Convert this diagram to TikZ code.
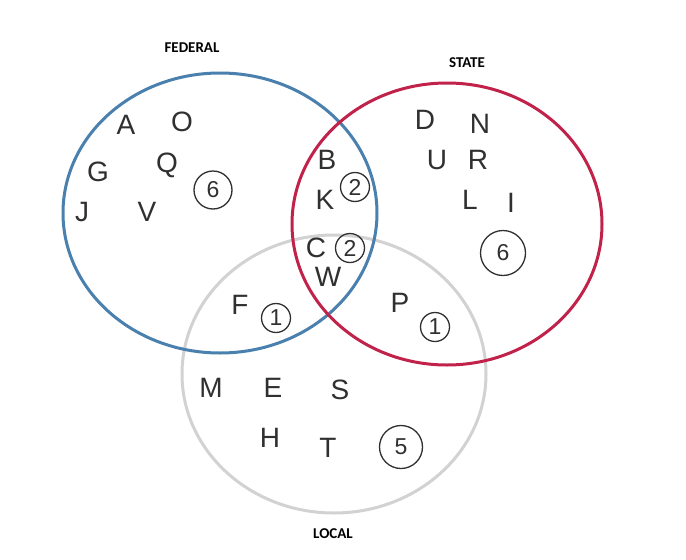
\documentclass[tikz,border=0pt]{standalone}
\usepackage{fontspec}
\setmainfont{Liberation Sans}
\newfontfamily\labfont{Carlito}
\definecolor{fedblue}{HTML}{4A80AE}
\definecolor{statered}{HTML}{C1224A}
\definecolor{localgray}{HTML}{D2D2D2}
\definecolor{ink}{HTML}{303030}
\begin{document}
\begin{tikzpicture}[x=1pt,y=-1pt,
  setlabel/.style={font=\labfont\bfseries\fontsize{15}{17}\selectfont, text=black},
  hand/.style={font=\fontsize{28}{30}\selectfont, text=ink, inner sep=0pt},
  cnum/.style={draw=ink, line width=1.3pt, circle, inner sep=0pt, minimum size=#1, text=ink, font=\fontsize{23}{25}\selectfont},
  cnum/.default=29pt,
  ring/.style={line width=3pt}]
\useasboundingbox (0,0) rectangle (686,560);
\fill[white] (0,0) rectangle (686,560);
% sets
\draw[ring, draw=localgray] (334,374) ellipse [x radius=152, y radius=139];
\draw[ring, draw=fedblue] (220,213) ellipse [x radius=157, y radius=140];
\draw[ring, draw=statered] (447,224) ellipse [x radius=155, y radius=141];
% labels
\node[setlabel] (fed) at (192,48) {FEDERAL};
\node[setlabel] (state) at (467,63) {STATE};
\node[setlabel] (local) at (333,534) {LOCAL};
% federal only
\node[hand] (A) at (126,125) {A};
\node[hand] (O) at (182,122) {O};
\node[hand] (G) at (98,172) {G};
\node[hand] (Q) at (167,165) {Q};
\node[cnum=38pt] (n6a) at (213,190) {6};
\node[hand] (J) at (82,212) {J};
\node[hand] (V) at (147,212) {V};
% federal & state
\node[hand] (B) at (327,160) {B};
\node[cnum] (n2a) at (355,187) {2};
\node[hand] (K) at (325,200) {K};
% all three
\node[hand] (C) at (316,248) {C};
\node[cnum] (n2b) at (350,248) {2};
\node[hand] (W) at (328,277) {W};
% federal & local
\node[hand] (F) at (240,305) {F};
\node[cnum] (n1a) at (276,318) {1};
% state only
\node[hand] (D) at (425,120) {D};
\node[hand] (N) at (480,124) {N};
\node[hand] (U) at (437,160) {U};
\node[hand] (R) at (478,160) {R};
\node[hand] (L) at (470,200) {L};
\node[hand] (I) at (511,203) {I};
\node[cnum=45pt] (n6b) at (503,253) {6};
% state & local
\node[hand] (P) at (400,303) {P};
\node[cnum] (n1b) at (435,327) {1};
% local only
\node[hand] (M) at (211,388) {M};
\node[hand] (E) at (273,388) {E};
\node[hand] (S) at (340,390) {S};
\node[hand] (H) at (270,438) {H};
\node[hand] (T) at (328,448) {T};
\node[cnum=43pt] (n5) at (401,447) {5};
\end{tikzpicture}
\end{document}
